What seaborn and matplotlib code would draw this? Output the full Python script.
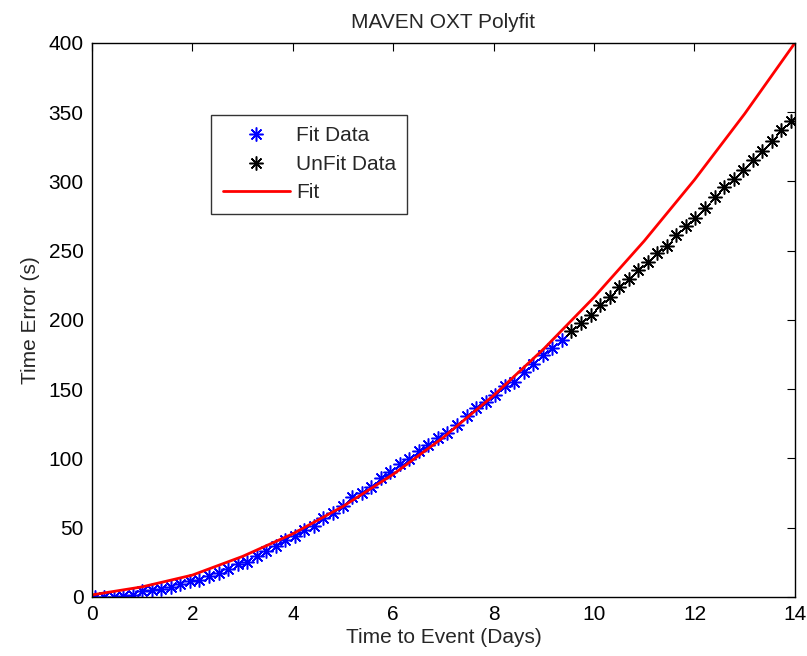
import numpy as np
import pandas as pd
import matplotlib
matplotlib.use("Agg")
import matplotlib.pyplot as plt
import seaborn as sns

# Time-error samples (days, seconds) used for the polynomial fit
fit_days = [0.05, 0.24, 0.43, 0.62, 0.81, 1.00, 1.19, 1.38, 1.57, 1.76,
            1.95, 2.14, 2.33, 2.52, 2.71, 2.90, 3.09, 3.28, 3.47, 3.66,
            3.85, 4.04, 4.23, 4.42, 4.61, 4.80, 4.99, 5.18, 5.37, 5.56,
            5.75, 5.94, 6.13, 6.32, 6.51, 6.70, 6.89, 7.08, 7.27, 7.46,
            7.65, 7.84, 8.03, 8.22, 8.41, 8.60, 8.79, 8.98, 9.17, 9.36]
fit_err = [0.0, 0.0, 0.0, 0.5, 1.5, 4.5, 5.0, 6.0, 7.5, 9.0,
           11.5, 12.5, 15.0, 17.0, 20.0, 24.0, 25.5, 29.5, 33.0, 37.0,
           41.0, 44.0, 48.0, 51.0, 57.0, 60.5, 66.0, 72.0, 75.0, 79.5,
           86.0, 90.0, 96.0, 99.5, 105.5, 110.0, 114.5, 118.5, 124.5, 130.5,
           136.5, 141.0, 146.0, 152.0, 155.5, 162.5, 168.5, 174.5, 179.5, 185.5]

# Samples held out of the fit
unfit_days = [9.55, 9.74, 9.93, 10.12, 10.31, 10.50, 10.69, 10.88, 11.07, 11.26,
              11.45, 11.64, 11.83, 12.02, 12.21, 12.40, 12.59, 12.78, 12.97, 13.16,
              13.35, 13.54, 13.73, 13.92]
unfit_err = [192.0, 198.0, 203.5, 211.0, 216.5, 223.5, 229.5, 236.0, 241.5, 248.5,
             253.5, 261.0, 268.0, 273.5, 281.0, 288.5, 296.0, 301.5, 308.5, 315.5,
             322.0, 329.5, 337.0, 343.5]

# Evaluated polynomial fit curve
curve_days = [0, 1, 2, 3, 4, 5, 6, 7, 8, 9, 10, 11, 12, 13, 14]
curve_err = [1.5, 7.3, 15.8, 29.3, 45.6, 65.4, 88.6, 115.3, 145.5, 179.2,
             216.4, 257.1, 301.2, 348.9, 400.0]

x_ticks = [0, 2, 4, 6, 8, 10, 12, 14]
y_ticks = [0, 50, 100, 150, 200, 250, 300, 350, 400]

sns.set_style("white")
plt.rcParams["font.family"] = ["Liberation Sans", "DejaVu Sans"]
fs = 15

fit_df = pd.DataFrame({"day": fit_days, "err": fit_err})
unfit_df = pd.DataFrame({"day": unfit_days, "err": unfit_err})
curve_df = pd.DataFrame({"day": curve_days, "err": curve_err})

fig = plt.figure(figsize=(8.07, 6.56), dpi=100)
ax = fig.add_axes([0.114, 0.090, 0.871, 0.8445])

asterisk = (8, 2, 0)
sns.lineplot(data=fit_df, x="day", y="err", ax=ax, estimator=None, sort=False,
             linestyle="none", marker=asterisk, markersize=10, markeredgewidth=1.1,
             color="#0000ff", markeredgecolor="#0000ff", label="Fit Data")
sns.lineplot(data=unfit_df, x="day", y="err", ax=ax, estimator=None, sort=False,
             linestyle="none", marker=asterisk, markersize=10, markeredgewidth=1.1,
             color="black", markeredgecolor="black", label="UnFit Data")
sns.lineplot(data=curve_df, x="day", y="err", ax=ax, estimator=None, sort=False,
             color="#ff0000", linewidth=2.0, label="Fit")

ax.set_xlim(0, 14)
ax.set_ylim(0, 400)
ax.set_xticks(x_ticks)
ax.set_yticks(y_ticks)
ax.tick_params(direction="in", top=True, right=True, length=6, width=0.8,
               labelsize=fs, pad=6, colors="black")
for sp in ax.spines.values():
    sp.set_visible(True)
    sp.set_color("black")
    sp.set_linewidth(1.0)

ax.set_xlabel("Time to Event (Days)", fontsize=fs, labelpad=3)
ax.set_ylabel("Time Error (s)", fontsize=fs, labelpad=6)
ax.set_title("MAVEN OXT Polyfit", fontsize=fs, pad=11)

leg = ax.legend(loc="upper left", bbox_to_anchor=(0.170, 0.870), borderaxespad=0,
                fontsize=fs, frameon=True, fancybox=False, shadow=False,
                handlelength=3.2, handletextpad=0.3, labelspacing=0.45,
                borderpad=0.55)
leg.get_frame().set_edgecolor("black")
leg.get_frame().set_linewidth(1.0)

fig.savefig("out.png", dpi=100)
